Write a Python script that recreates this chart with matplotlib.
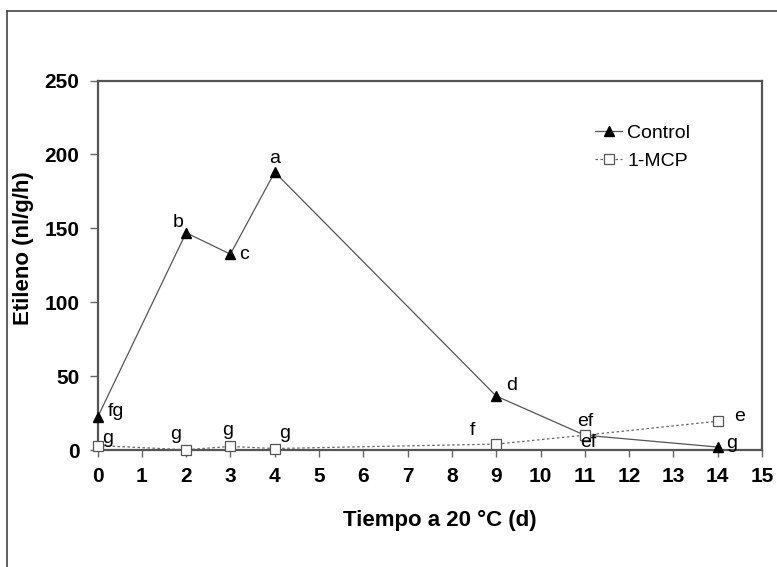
import matplotlib
matplotlib.use("Agg")
import matplotlib.pyplot as plt
from matplotlib.lines import Line2D

plt.rcParams['font.family'] = ['Liberation Sans', 'DejaVu Sans']

dias = [0, 2, 3, 4, 9, 11, 14]
control = [22, 147, 132.5, 188, 36.5, 10, 2]
mcp = [3, 0.2, 2.4, 1, 4, 10, 19.5]
letras_control = ['fg', 'b', 'c', 'a', 'd', 'ef', 'g']
letras_mcp = ['g', 'g', 'g', 'g', 'f', 'ef', 'e']
x_ticks = list(range(0, 16))
y_ticks = [0, 50, 100, 150, 200, 250]

W, H = 777, 567
fig = plt.figure(figsize=(W / 100, H / 100), dpi=100)
ax = fig.add_axes([97.5 / W, 1 - 450 / H, (762 - 97.5) / W, (450 - 80.5) / H])

# outer frame (left and top edges visible)
fig.add_artist(Line2D([7 / W, 7 / W], [0, 1 - 11 / H], transform=fig.transFigure,
                      color='#444444', lw=1.2))
fig.add_artist(Line2D([7 / W, 1], [1 - 11 / H, 1 - 11 / H], transform=fig.transFigure,
                      color='#444444', lw=1.2))

ax.plot(dias, control, color='#555555', lw=0.9, marker='^', ms=6.5,
        mfc='black', mec='black', label='Control', zorder=3, clip_on=False)
ax.plot(dias, mcp, color='#666666', lw=0.9, ls=(0, (2, 2)), marker='s', ms=6.5,
        mfc='white', mec='#555555', mew=0.9, label='1-MCP', zorder=3, clip_on=False)

fs = 14
# significance letters (offsets in pixels from each marker)
off_c = [(18, 6), (-8, 10), (14, 0), (0, 14), (15, 11), (3, -7), (14, 4)]
for x, y, t, o in zip(dias, control, letras_control, off_c):
    ax.annotate(t, (x, y), xytext=o, textcoords='offset pixels',
                fontsize=fs, ha='center', va='center')
off_m = [(10, 7), (-10, 15), (-3, 16), (10, 15), (-24, 14), (0, 14), (22, 5)]
for x, y, t, o in zip(dias, mcp, letras_mcp, off_m):
    ax.annotate(t, (x, y), xytext=o, textcoords='offset pixels',
                fontsize=fs, ha='center', va='center')

ax.set_xlim(0, 15)
ax.set_ylim(0, 250)
ax.set_xticks(x_ticks)
ax.set_yticks(y_ticks)
ax.set_xticklabels([str(v) for v in x_ticks], fontsize=15, fontweight='bold')
ax.set_yticklabels([str(v) for v in y_ticks], fontsize=15, fontweight='bold')
ax.tick_params(axis='x', direction='out', length=5, width=1, color='#666666', pad=7)
ax.tick_params(axis='y', direction='out', length=6, width=1, color='#666666', pad=7)
for s in ax.spines.values():
    s.set_color('#555555')
    s.set_linewidth(1.6)

fig.text(440 / W, 1 - 520 / H, 'Tiempo a 20 °C (d)', fontsize=16, fontweight='bold',
         ha='center', va='center')
fig.text(24 / W, 1 - 248 / H, 'Etileno (nl/g/h)', fontsize=16, fontweight='bold',
         ha='center', va='center', rotation=90)

ax.legend(loc='upper left', bbox_to_anchor=(595 / W, 1 - 124 / H),
          bbox_transform=fig.transFigure, frameon=False, fontsize=14,
          handlelength=1.4, handletextpad=0.25, labelspacing=0.55,
          borderpad=0, borderaxespad=0)

fig.savefig('out.png', dpi=100)
